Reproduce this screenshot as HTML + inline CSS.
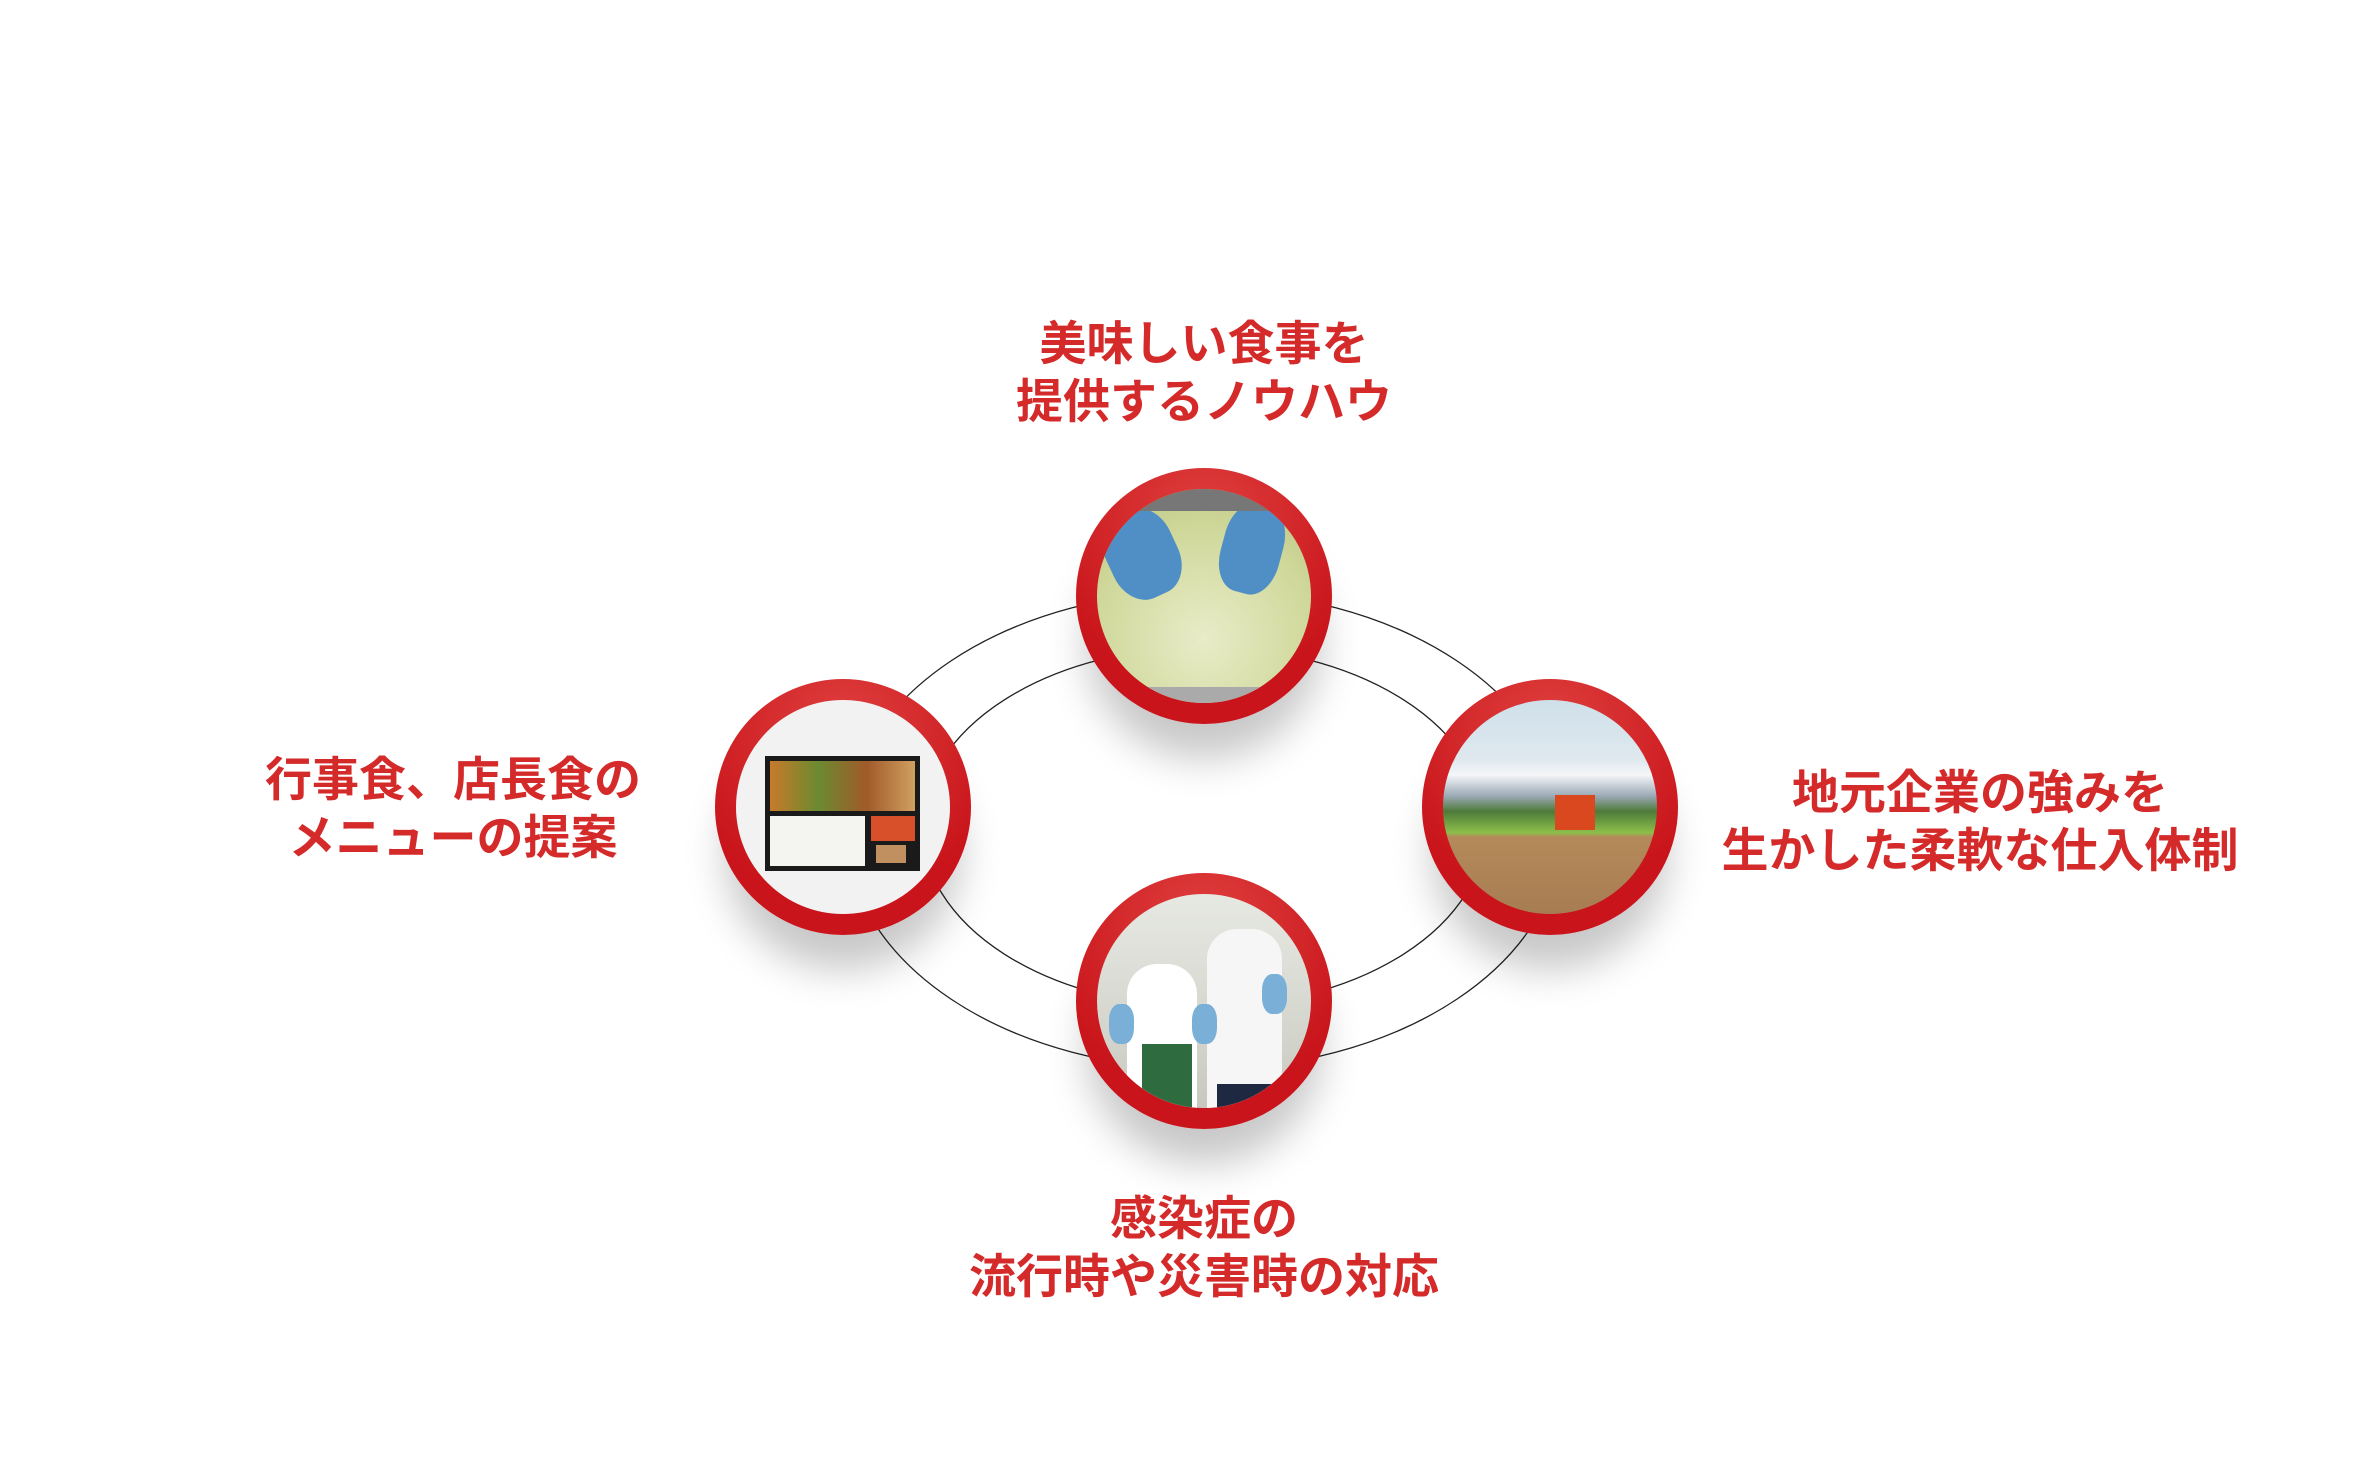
<!DOCTYPE html>
<html><head><meta charset="utf-8"><style>
html,body{margin:0;padding:0;background:#fff}
body{width:2358px;height:1473px;position:relative;overflow:hidden;font-family:"Liberation Sans","Noto Sans CJK JP",sans-serif}
.t{position:absolute;color:#d42a2a;font-weight:bold;font-size:47px;line-height:58px;text-align:center;white-space:nowrap;transform:translateX(-50%)}
.c{position:absolute;width:256px;height:256px;border-radius:50%;background:radial-gradient(circle at 50% 20%,#e0403f,#c8141a 70%);box-shadow:0 45px 40px -10px rgba(0,0,0,.22)}
.p{position:absolute;left:21px;top:21px;width:214px;height:214px;border-radius:50%;overflow:hidden}
</style></head><body>
<svg width="2358" height="1473" style="position:absolute;left:0;top:0">
<ellipse cx="1204" cy="830" rx="358" ry="239" fill="none" stroke="#222" stroke-width="1.3"/>
<ellipse cx="1204" cy="827" rx="282" ry="180" fill="none" stroke="#222" stroke-width="1.3"/>
</svg>
<div class="c" style="left:1076px;top:468px"><div class="p" style="background:radial-gradient(circle at 50% 70%,#e8ecc8,#cfd89a 60%,#b9c07c)">
<div style="position:absolute;left:10px;top:20px;width:70px;height:90px;background:#4f8fc6;border-radius:40%;transform:rotate(-25deg)"></div>
<div style="position:absolute;left:125px;top:15px;width:60px;height:90px;background:#4f8fc6;border-radius:40%;transform:rotate(15deg)"></div>
<div style="position:absolute;left:0;top:0;width:214px;height:22px;background:#777"></div>
<div style="position:absolute;left:0;bottom:0;width:214px;height:16px;background:#aaa"></div>
</div></div>
<div class="c" style="left:715px;top:679px"><div class="p" style="background:#f2f2f2">
<div style="position:absolute;left:29px;top:56px;width:155px;height:115px;background:#1a1a1a"></div>
<div style="position:absolute;left:34px;top:61px;width:145px;height:50px;background:linear-gradient(90deg,#c77a2a,#6b8a30,#a05a2a,#d0a060)"></div>
<div style="position:absolute;left:34px;top:116px;width:95px;height:50px;background:#f4f4f0"></div>
<div style="position:absolute;left:135px;top:116px;width:44px;height:25px;background:#d8502a"></div>
<div style="position:absolute;left:140px;top:145px;width:30px;height:18px;background:#c09060"></div>
</div></div>
<div class="c" style="left:1422px;top:679px"><div class="p" style="background:linear-gradient(180deg,#cfe0ea 0%,#dfe8ee 28%,#f4f6f8 35%,#9aa8b4 45%,#4e7a3a 52%,#8cbf4a 62%,#b58a5a 64%,#a77c52 100%)">
<div style="position:absolute;left:112px;top:95px;width:40px;height:35px;background:#d9481e"></div>
</div></div>
<div class="c" style="left:1076px;top:873px"><div class="p" style="background:linear-gradient(180deg,#e6e8e2 0%,#d8dad2 50%,#c9c8c0 100%)">
<div style="position:absolute;left:30px;top:70px;width:70px;height:150px;background:#fff;border-radius:30px 30px 0 0"></div>
<div style="position:absolute;left:45px;top:150px;width:50px;height:70px;background:#2e6b3e"></div>
<div style="position:absolute;left:110px;top:35px;width:75px;height:185px;background:#f6f6f6;border-radius:30px 30px 0 0"></div>
<div style="position:absolute;left:120px;top:190px;width:60px;height:30px;background:#1e2840"></div>
<div style="position:absolute;left:12px;top:110px;width:25px;height:40px;background:#7ab0d8;border-radius:40%"></div>
<div style="position:absolute;left:95px;top:110px;width:25px;height:40px;background:#7ab0d8;border-radius:40%"></div>
<div style="position:absolute;left:165px;top:80px;width:25px;height:40px;background:#7ab0d8;border-radius:40%"></div>
</div></div>
<div class="t" style="left:1204px;top:315px">美味しい食事を<br>提供するノウハウ</div>
<div class="t" style="left:453px;top:751px">行事食、店長食の<br>メニューの提案</div>
<div class="t" style="left:1980px;top:764px">地元企業の強みを<br>生かした柔軟な仕入体制</div>
<div class="t" style="left:1204px;top:1190px">感染症の<br>流行時や災害時の対応</div>
</body></html>
